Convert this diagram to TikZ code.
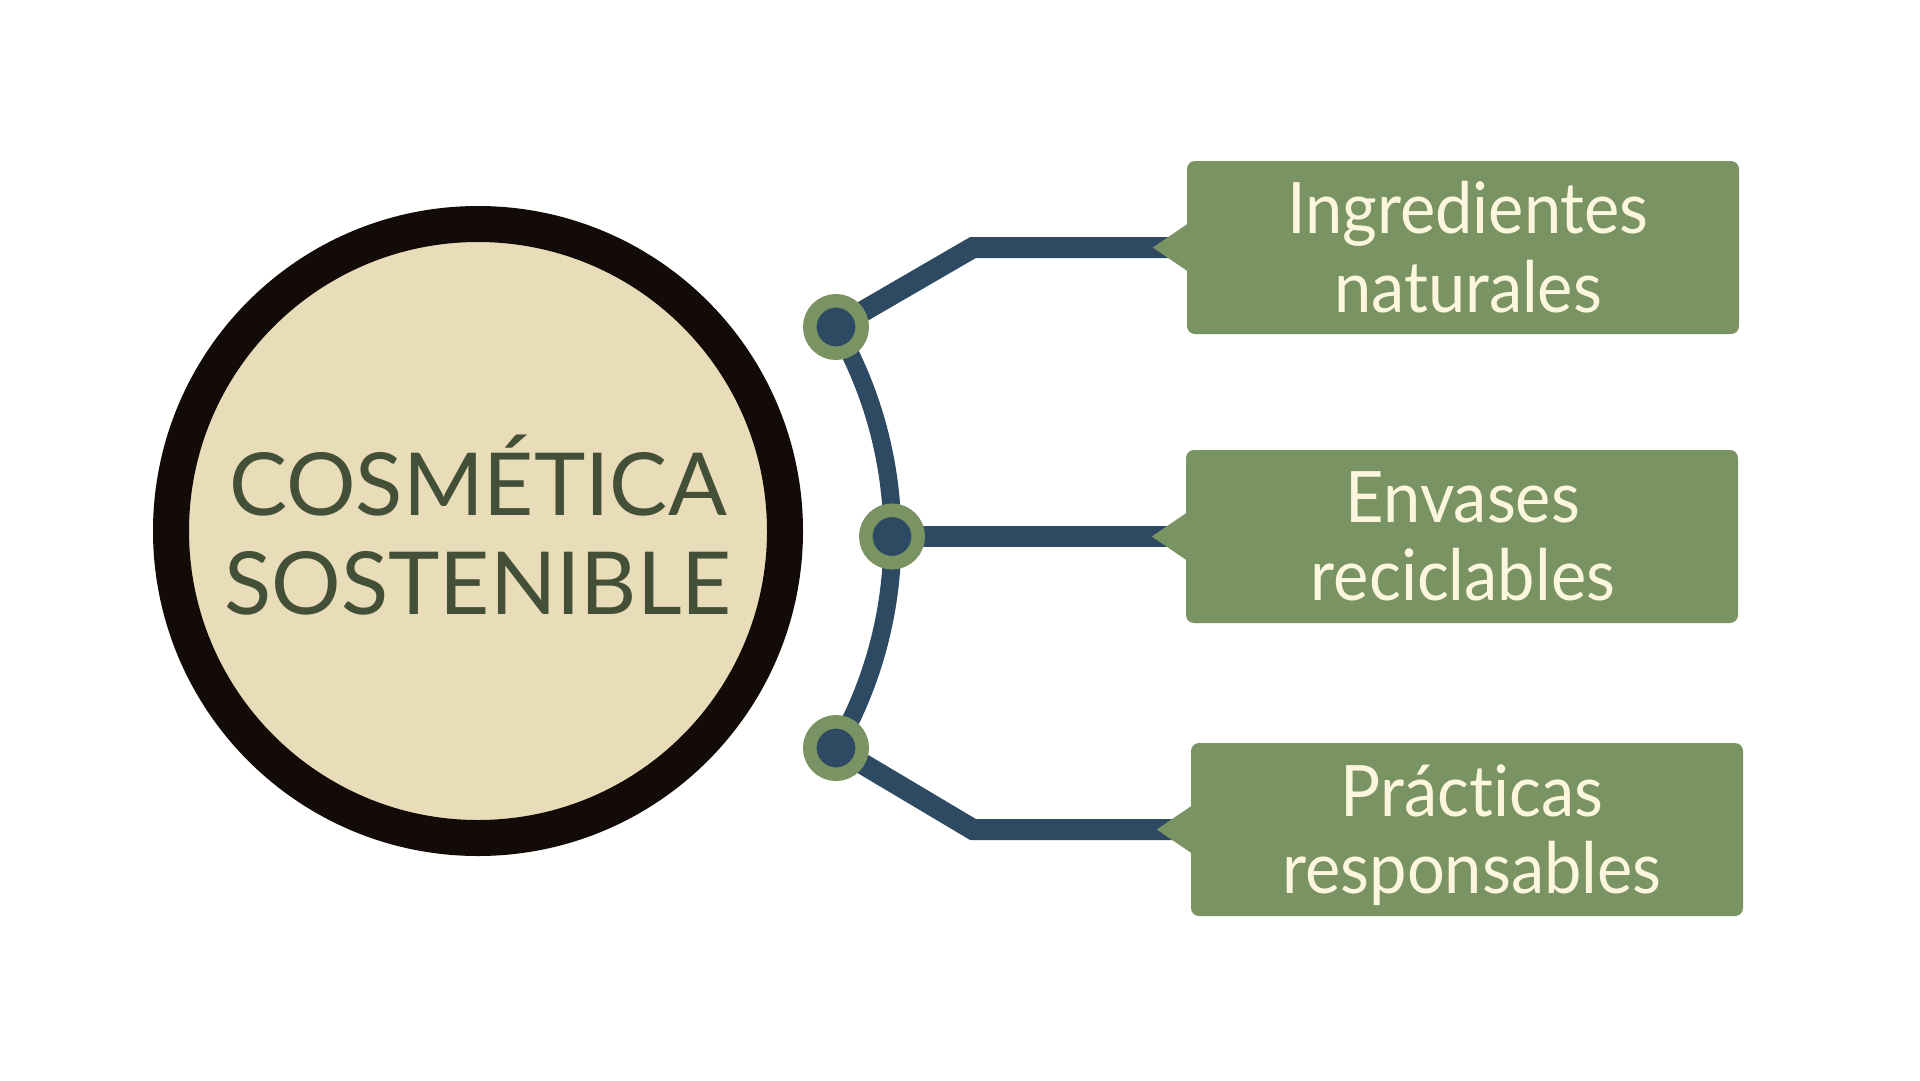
\documentclass[tikz,border=0pt]{standalone}
\usepackage{fontspec}
\setmainfont{Lato}[Ligatures=NoCommon]
\newfontfamily\cardfont{Lato}[Ligatures=NoCommon, FakeStretch=0.94]
\usetikzlibrary{backgrounds,calc}

\definecolor{ringdark}{HTML}{120B08}
\definecolor{hubfill}{HTML}{E9DDB9}
\definecolor{titleolive}{HTML}{434F37}
\definecolor{slate}{HTML}{2E4A62}
\definecolor{leaf}{HTML}{7A9362}
\definecolor{creamtext}{HTML}{FDF6DE}

\begin{document}
\begin{tikzpicture}[x=1pt,y=-1pt,
  hub/.style={circle, inner sep=0pt, minimum size=614pt, line width=36pt, draw=ringdark, fill=hubfill},
  titletext/.style={font=\fontsize{87}{87}\selectfont, text=titleolive, inner sep=0pt},
  dot/.style={circle, inner sep=0pt, minimum size=52.5pt, line width=13.5pt, draw=leaf, fill=slate},
  card/.style={rectangle, rounded corners=8pt, fill=leaf, inner sep=0pt, minimum width=552pt, minimum height=173pt},
  cardtext/.style={font=\cardfont\fontsize{71}{71}\selectfont, text=creamtext, inner sep=0pt},
  link/.style={draw=slate, line width=21pt, line join=miter},
  ringline/.style={draw=slate, line width=18pt},
  tip/.style={fill=leaf}
]
\useasboundingbox (0,0) rectangle (1920,1080);

% central hub with its title
\node[hub] (hub) at (478,531) {};
\node[titletext, anchor=base] (title1) at (478,515) {COSMÉTICA};
\node[titletext, anchor=base] (title2) at (478,614) {SOSTENIBLE};

% junction dots on the arc
\node[dot] (n1) at (836,327) {};
\node[dot] (n2) at (892,536.5) {};
\node[dot] (n3) at (836,748) {};

% topic cards
\node[card] (b1) at (1463,247.5) {};
\node[card] (b2) at (1462,536.5) {};
\node[card] (b3) at (1467,829.5) {};

% card pointers
\foreach \b in {b1,b2,b3}{
  \fill[tip] ($(\b.west)+(2,-24.5)$) -- ($(\b.west)+(-34,0)$) -- ($(\b.west)+(2,24.5)$) -- cycle;
}

% card labels
\node[cardtext, anchor=base] (b1a) at (1468,233) {Ingredientes};
\node[cardtext, anchor=base] (b1b) at (1468,312) {naturales};
\node[cardtext, anchor=base] (b2a) at (1463,522) {Envases};
\node[cardtext, anchor=base] (b2b) at (1463,600) {reciclables};
\node[cardtext, anchor=base] (b3a) at (1472,816) {Prácticas};
\node[cardtext, anchor=base] (b3b) at (1472,893) {responsables};

% elbows of the outer branches
\coordinate (e1) at (973,247.5);
\coordinate (e3) at (973,829.5);

\begin{scope}[on background layer]
  \fill[white] (0,0) rectangle (1920,1080);
  \draw[ringline] (n1.center) arc[start angle=-30, end angle=30, radius=421];
  \draw[link] (n1.center) -- (e1) -- (b1.west);
  \draw[link] (n2.center) -- (b2.west);
  \draw[link] (n3.center) -- (e3) -- (b3.west);
\end{scope}
\end{tikzpicture}
\end{document}
